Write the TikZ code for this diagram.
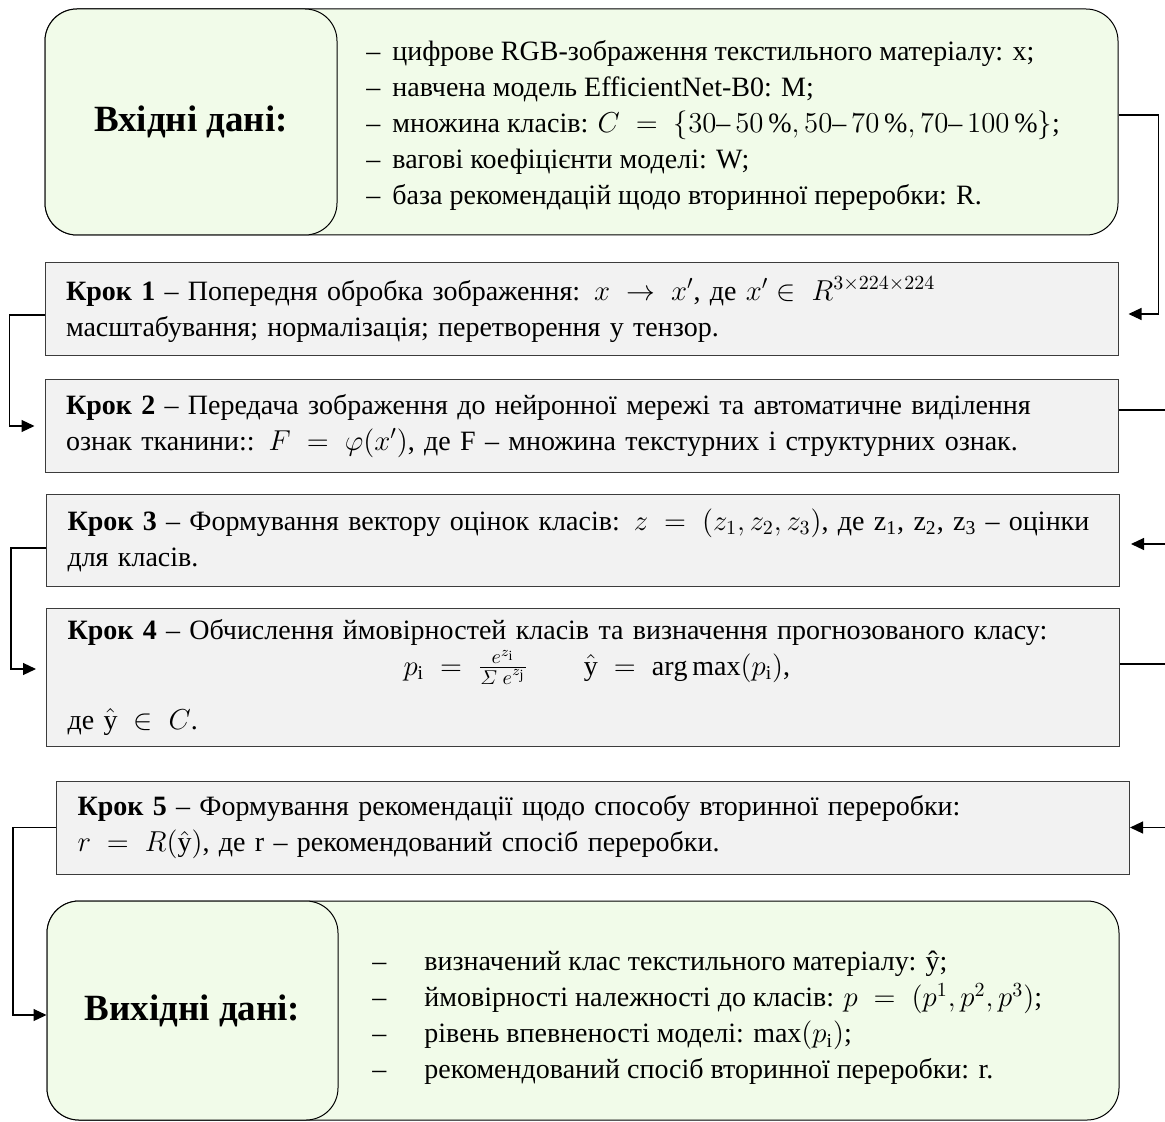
\documentclass[tikz,border=0pt]{standalone}
\usepackage{fontspec}
\setmainfont{Liberation Serif}
\usetikzlibrary{arrows.meta}

\definecolor{dataFill}{RGB}{241,251,233}
\definecolor{stepFill}{RGB}{242,242,242}
\definecolor{stepLine}{RGB}{60,60,60}

\tikzset{
  databox/.style={rectangle, rounded corners=16pt, draw=black, fill=dataFill, line width=0.5pt},
  datahead/.style={databox, font=\fontsize{18.5}{21}\selectfont\bfseries},
  datalist/.style={anchor=west, inner sep=0pt, align=left, font=\fontsize{14}{18}\selectfont},
  stepbox/.style={rectangle, draw=stepLine, fill=stepFill, line width=0.5pt, text width=515.5pt, inner xsep=10.5pt, align=left, font=\fontsize{14}{18}\selectfont},
  conn/.style={draw=black, line width=0.6pt},
  arr/.style={conn, -{Triangle[length=6.5pt, width=6pt]}}
}

\newcommand{\dashitem}[2]{\makebox[#1][l]{–}#2}

\begin{document}
\begin{tikzpicture}[x=0.5pt, y=-0.5pt]

\useasboundingbox (0,0) rectangle (1165,1122);

% input data
\node (inbox) at (581.5, 122) [databox, minimum width=536.5pt, minimum height=113pt] {};
\node (inhead) at (191, 122) [datahead, minimum width=146pt, minimum height=113pt] {\raisebox{1.5pt}{Вхідні дані:}};
\node (inlist) at (366, 125) [datalist] {
  \dashitem{13pt}{цифрове RGB-зображення текстильного матеріалу: x;}\\
  \dashitem{13pt}{навчена модель EfficientNet-B0: M;}\\
  \dashitem{13pt}{множина класів: $C \;=\; \{30\mbox{–}\,50\,\%, 50\mbox{–}\,70\,\%, 70\mbox{–}\,100\,\%\}$;}\\
  \dashitem{13pt}{вагові коефіцієнти моделі: W;}\\
  \dashitem{13pt}{база рекомендацій щодо вторинної переробки: R.}};

% steps
\node (s1) at (581.5, 309.5) [stepbox, minimum height=46.5pt] {\textbf{Крок 1} – Попередня обробка зображення: $x \;\rightarrow\; x'$, де $x' \in\; R^{3\times224\times224}$\\
  масштабування; нормалізація; перетворення у тензор.};
\node (s2) at (581.5, 426) [stepbox, minimum height=46pt] {\textbf{Крок 2} – Передача зображення до нейронної мережі та автоматичне виділення\\
  ознак тканини:: $F \;=\; \varphi(x')$, де F – множина текстурних і структурних ознак.};
\node (s3) at (583, 540) [stepbox, minimum height=46pt] {\textbf{Крок 3} – Формування вектору оцінок класів: $z \;=\; (z_1, z_2, z_3)$, де z\textsubscript{1}, z\textsubscript{2}, z\textsubscript{3} – оцінки\\
  для класів.};
\node (s4) at (583, 677) [stepbox, minimum height=69pt] {\textbf{Крок 4} – Обчислення ймовірностей класів та визначення прогнозованого класу:\\
  \hspace*{168pt}$p_{\mathrm{i}} \;=\; \frac{e^{z_{\mathrm{i}}}}{\mathnormal{\Sigma}\; e^{z_{\mathrm{j}}}}$\qquad$\hat{\mathrm{y}} \;=\; \arg\max(p_{\mathrm{i}})$,\\[9pt]
  де $\hat{\mathrm{y}} \;\in\; C$.};
\node (s5) at (593, 827.5) [stepbox, minimum height=46.5pt] {\textbf{Крок 5} – Формування рекомендації щодо способу вторинної переробки:\\
  $r \;=\; R(\hat{\mathrm{y}})$, де r – рекомендований спосіб переробки.};

% output data
\node (outbox) at (583, 1010.5) [databox, minimum width=536pt, minimum height=109.5pt] {};
\node (outhead) at (192.5, 1010.5) [datahead, minimum width=145.5pt, minimum height=109.5pt] {\raisebox{1.5pt}{Вихідні дані:}};
\node (outlist) at (372, 1018) [datalist] {
  \dashitem{26pt}{визначений клас текстильного матеріалу: ŷ;}\\
  \dashitem{26pt}{ймовірності належності до класів: $p \;=\; (p^1, p^2, p^3)$;}\\
  \dashitem{26pt}{рівень впевненості моделі: $\max(p_{\mathrm{i}})$;}\\
  \dashitem{26pt}{рекомендований спосіб вторинної переробки: r.}};

% connectors
\draw[arr] ([yshift=3.5pt]inbox.east) -- ++(40,0) |- ([xshift=5pt, yshift=-2.25pt]s1.east);
\draw[arr] ([yshift=-2.75pt]s1.west) -- ++(-35,0) |- ([xshift=-5pt]s2.west);
\draw[conn] ([yshift=8pt]s2.east) -- ++(47,0);
\draw[arr] ([xshift=23pt, yshift=-2pt]s3.east) -- ([xshift=5.5pt, yshift=-2pt]s3.east);
\draw[arr] ([yshift=-4pt]s3.west) -- ++(-35,0) |- ([xshift=-5pt, yshift=4pt]s4.west);
\draw[conn] ([yshift=6.5pt]s4.east) -- ++(46,0);
\draw[arr] ([xshift=18pt]s5.east) -- (s5.east);
\draw[arr] (s5.west) -- ++(-43,0) |- ([yshift=-2.25pt]outbox.west);

\end{tikzpicture}
\end{document}
